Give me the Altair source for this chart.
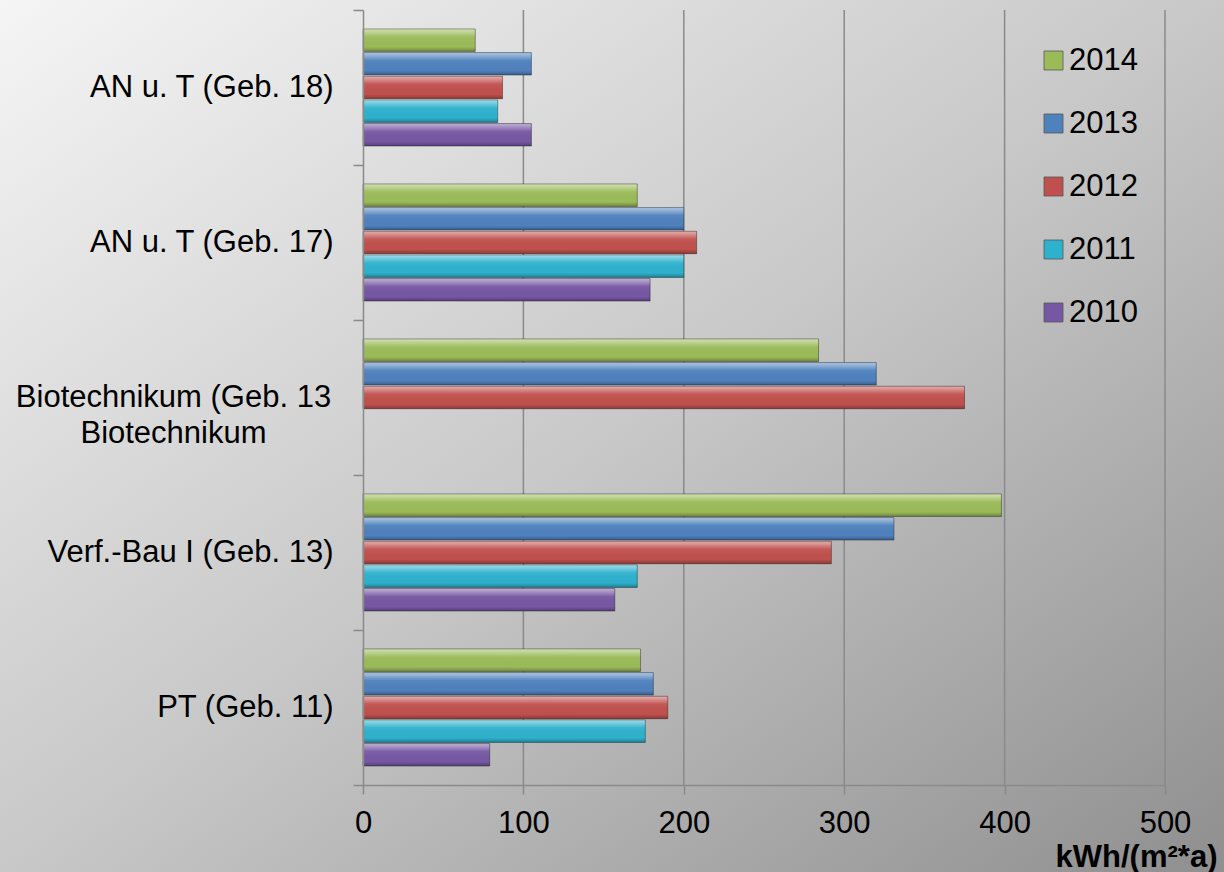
import altair as alt
import pandas as pd

# ---- data ----
categories = ["AN u. T (Geb. 18)", "AN u. T (Geb. 17)",
              "Biotechnikum (Geb. 13\nBiotechnikum",
              "Verf.-Bau I (Geb. 13)", "PT (Geb. 11)"]
years = ["2014", "2013", "2012", "2011", "2010"]
v2014 = [70, 171, 284, 398, 173]
v2013 = [105, 200, 320, 331, 181]
v2012 = [87, 208, 375, 292, 190]
v2011 = [84, 200, None, 171, 176]
v2010 = [105, 179, None, 157, 79]
colors = ["#9bbb59", "#4f81bd", "#c0504d", "#2eb1cd", "#7657a3"]
x_ticks = [0, 100, 200, 300, 400, 500]
x_title = "kWh/(m²*a)"

FONT = "Liberation Sans"
W, H = 802, 775
PAD = {"left": 363, "top": 10, "right": 59, "bottom": 87}

series = {"2014": v2014, "2013": v2013, "2012": v2012, "2011": v2011, "2010": v2010}
rows = []
for yr in years:
    for cat, v in zip(categories, series[yr]):
        if v is not None:
            rows.append({"cat": cat, "year": yr, "value": v})
df = pd.DataFrame(rows)
grid_df = pd.DataFrame({"value": x_ticks[1:]})

x_axis = alt.Axis(
    values=x_ticks, title=x_title, format="d",
    labelFontSize=31, labelFont=FONT, labelColor="black", labelPadding=14,
    labelFlush=False, labelOverlap=False,
    tickSize=9, tickColor="#8a8a8a", tickWidth=1.5,
    domainColor="#8a8a8a", domainWidth=1.5, grid=False,
    titleFont=FONT, titleFontSize=31, titleFontWeight="bold", titleColor="black",
    titleX=773, titleY=81, titleAlign="center", titleBaseline="alphabetic",
    zindex=1,
)
x_scale = alt.Scale(domain=[0, 500], nice=False, zero=True)
X = alt.X("value:Q", scale=x_scale, axis=x_axis)

is_bio = "isString(datum.value) && indexof(datum.value, 'Biotech') >= 0"
y_axis = alt.Axis(
    title=None,
    labelExpr="split(datum.label, '\\n')",
    labelFontSize=31, labelFont=FONT, labelColor="black", labelLimit=500,
    labelAlign={"condition": {"test": is_bio, "value": "center"}, "value": "right"},
    labelPadding={"condition": {"test": is_bio, "value": 180}, "value": 20},
    labelLineHeight=36, labelBaseline="middle",
    tickBand="extent", tickSize=10, tickColor="#8a8a8a", tickWidth=1.5,
    domainColor="#8a8a8a", domainWidth=1.5, grid=False, zindex=1,
)
Y = alt.Y("cat:N", sort=categories,
          scale=alt.Scale(domain=categories, paddingInner=0, paddingOuter=0),
          axis=y_axis)
YO = alt.YOffset("year:N", sort=years,
                 scale=alt.Scale(domain=years, paddingInner=0.05, paddingOuter=0.8))

bg_grad = alt.Gradient(
    gradient="linear", x1=0, y1=0, x2=1, y2=1,
    stops=[alt.GradientStop(offset=0, color="#f5f5f5"),
           alt.GradientStop(offset=0.5, color="#c8c8c8"),
           alt.GradientStop(offset=1, color="#8f8f8f")],
)
background = alt.Chart(alt.Data(values=[{"a": 1}])).mark_rect(fill=bg_grad).encode(
    x=alt.value(-PAD["left"]), x2=alt.value(W + PAD["right"]),
    y=alt.value(-PAD["top"]), y2=alt.value(H + PAD["bottom"]),
)

grid = alt.Chart(grid_df).mark_rule(color="#8a8a8a", strokeWidth=1.5).encode(
    x=X, y=alt.value(0), y2=alt.value(H),
)

legend = alt.Legend(
    title=None, orient="none", legendX=675, legendY=35,
    symbolType="square", symbolSize=361, symbolStrokeColor="#555555",
    symbolStrokeWidth=0.8, symbolOpacity=1,
    labelFontSize=31, labelFont=FONT, labelColor="black", labelOffset=0,
    rowPadding=31,
)
bars = alt.Chart(df).mark_bar(opacity=1).encode(
    x=X, y=Y, yOffset=YO,
    color=alt.Color("year:N", sort=years,
                    scale=alt.Scale(domain=years, range=colors), legend=legend),
)

shine = alt.Gradient(
    gradient="linear", x1=0, y1=0, x2=0, y2=1,
    stops=[alt.GradientStop(offset=0, color="rgba(255,255,255,0.55)"),
           alt.GradientStop(offset=0.18, color="rgba(255,255,255,0.30)"),
           alt.GradientStop(offset=0.35, color="rgba(255,255,255,0.05)"),
           alt.GradientStop(offset=0.8, color="rgba(0,0,0,0.0)"),
           alt.GradientStop(offset=1, color="rgba(0,0,0,0.28)")],
)
overlay = alt.Chart(df).mark_bar(fill=shine, stroke="rgba(0,0,0,0.35)", strokeWidth=1).encode(
    x=X, y=Y, yOffset=YO,
)

chart = alt.layer(background, grid, bars, overlay).properties(
    width=W, height=H,
    autosize=alt.AutoSizeParams(type="none"),
    padding=PAD,
    background="#c8c8c8",
).configure_view(stroke=None)

chart.save("out.html", embed_options={"renderer": "svg", "actions": False})
